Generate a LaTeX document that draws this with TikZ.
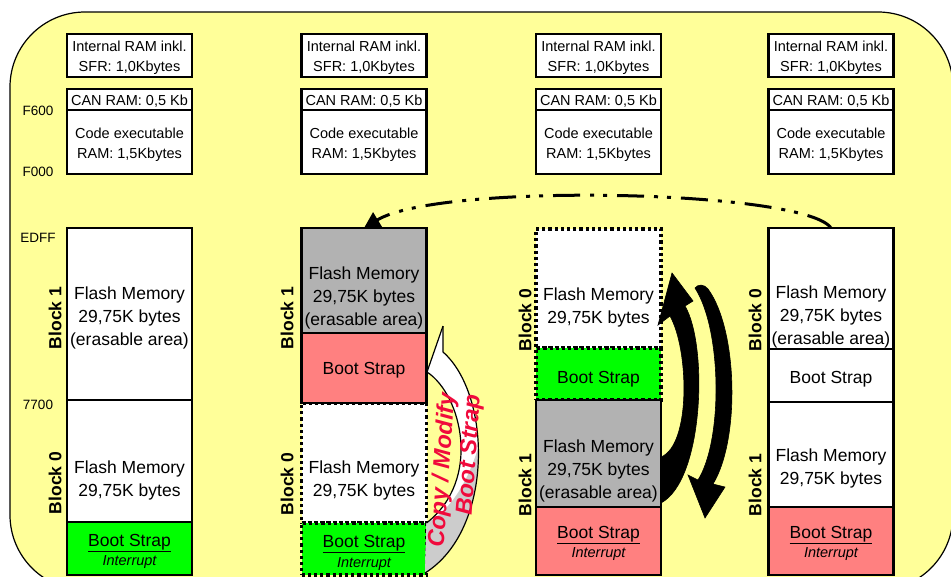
\documentclass[tikz,border=0pt]{standalone}
\usepackage{fontspec}
\setmainfont{Liberation Sans}
\usetikzlibrary{arrows.meta}
\definecolor{bgyel}{RGB}{255,255,153}
\definecolor{flgreen}{RGB}{0,255,0}
\definecolor{flpink}{RGB}{255,128,128}
\definecolor{flgray}{RGB}{178,178,178}
\definecolor{cmred}{RGB}{240,10,60}
\definecolor{arrgray}{RGB}{204,204,204}
\begin{document}
\begin{tikzpicture}[x=1pt,y=-1pt,
  mbox/.style={draw=black, line width=2.6pt, inner sep=0pt, outer sep=0pt, minimum width=125pt},
  dotbox/.style={mbox, line width=3.2pt, dash pattern=on 3.2pt off 3pt},
  txt/.style={font=\fontsize{17.5}{23}\selectfont, align=center, inner sep=0pt},
  stxt/.style={font=\fontsize{14.5}{20}\selectfont, align=center, inner sep=0pt},
  addr/.style={font=\fontsize{13.5}{15}\selectfont, inner sep=0pt},
  blk/.style={font=\fontsize{17.5}{20}\selectfont\bfseries, rotate=90, inner sep=0pt},
  intr/.style={font=\fontsize{14.5}{16}\selectfont\itshape, inner sep=0pt},
  cmtext/.style={font=\fontsize{23.5}{26}\selectfont\bfseries\itshape, text=cmred, rotate=86, inner sep=0pt},
  blackarr/.style={fill=black, draw=black, line width=0.6pt},
  ddot/.style={line width=3pt, dash pattern=on 27pt off 10pt on 4pt off 9pt on 4pt off 10pt}
]
\useasboundingbox (0,0) rectangle (951,576);
% background
\draw[fill=bgyel, line width=1.2pt, rounded corners=75pt] (10,12) rectangle (953,590);

% address labels
\node[addr] (aF600) at (38,111) {F600};
\node[addr] (aF000) at (38,172) {F000};
\node[addr] (aEDFF) at (38,238) {EDFF};
\node[addr] (a7700) at (38,405) {7700};

% top small boxes (4 columns)
\foreach \cx/\n in {129.5/1, 364/2, 598.5/3, 831/4}{
  \node[mbox, fill=white, minimum height=43pt] (iram\n) at (\cx,55.5) {};
  \node[mbox, fill=white, minimum height=64pt] (code\n) at (\cx,142) {};
  \node[mbox, fill=white, minimum height=21pt] (can\n) at (\cx,99.5) {};
  \node[stxt] (tiram\n) at (\cx,58) {Internal RAM inkl.\\SFR: 1,0Kbytes};
  \node[stxt] (tcan\n) at (\cx,101) {CAN RAM: 0,5 Kb};
  \node[stxt] (tcode\n) at (\cx,144.5) {Code executable\\RAM: 1,5Kbytes};
}

% column 1
\node[mbox, fill=white, minimum height=172pt] (c1a) at (129.5,314) {};
\node[mbox, fill=white, minimum height=122pt] (c1b) at (129.5,461) {};
\node[mbox, fill=flgreen, minimum height=53pt] (c1c) at (129.5,548.5) {};

% column 2
\node[dotbox, fill=white, minimum height=120pt] (c2c) at (364,463) {};
\node[dotbox, fill=flgreen, minimum height=52pt] (c2d) at (364,549) {};
\node[mbox, fill=flgray, minimum height=105pt] (c2a) at (364,280.5) {};
\node[mbox, fill=flpink, minimum height=70pt] (c2b) at (364,368) {};

% column 3
\node[dotbox, fill=white, minimum height=119pt] (c3a) at (598.5,288.5) {};
\node[dotbox, fill=flgreen, minimum height=52pt] (c3b) at (598.5,374) {};
\node[mbox, fill=flgray, minimum height=107pt] (c3c) at (598.5,453.5) {};
\node[mbox, fill=flpink, minimum height=68pt] (c3d) at (598.5,541) {};

% column 4
\node[mbox, fill=white, minimum height=121pt] (c4a) at (831,288.5) {};
\node[mbox, fill=white, minimum height=53pt] (c4b) at (831,375.5) {};
\node[mbox, fill=white, minimum height=105pt] (c4c) at (831,454.5) {};
\node[mbox, fill=flpink, minimum height=68pt] (c4d) at (831,541) {};

% block labels
\node[blk] (bl11) at (55,318) {Block 1};
\node[blk] (bl10) at (55,483) {Block 0};
\node[blk] (bl21) at (287,318) {Block 1};
\node[blk] (bl20) at (287,484) {Block 0};
\node[blk] (bl30) at (525,320) {Block 0};
\node[blk] (bl31) at (525,485) {Block 1};
\node[blk] (bl40) at (755,320) {Block 0};
\node[blk] (bl41) at (755,485) {Block 1};

% white/gray curved arrow (copy / modify)
\coordinate (wtip) at (443,326);
\coordinate (wlb) at (427,372);
\coordinate (wrb) at (443,352);
\coordinate (wA) at (c2c.south east);
\coordinate (wB) at (425,573);
\fill[white] (wtip) -- (wlb) .. controls (462,395) and (482,480) .. (wA) -- (wB) .. controls (494,530) and (492,395) .. (wrb) -- cycle;
\begin{scope}
  \clip (wtip) -- (wlb) .. controls (462,395) and (482,480) .. (wA) -- (wB) .. controls (494,530) and (492,395) .. (wrb) -- cycle;
  \fill[arrgray] (wA) .. controls (462,505) and (484,450) .. (492,380) -- (520,380) -- (520,600) -- (420,600) -- (420,523) -- cycle;
\end{scope}
\draw[line width=1.2pt, line join=round] (wtip) -- (wlb) .. controls (462,395) and (482,480) .. (wA);
\draw[line width=1.2pt, line join=round] (wB) .. controls (494,530) and (492,395) .. (wrb) -- (wtip);

% black swap arrows
\draw[blackarr] (c3c.east |- 0,503) .. controls (704,480) and (708,345) .. (685,306) -- (693,301) -- (672,273) -- (658,325) -- (670,316) .. controls (689,350) and (691,445) .. (c3c.east |- 0,457) -- cycle;
\draw[blackarr] (695,288) .. controls (722,330) and (723,440) .. (698,480) -- (688,475) -- (705,518) -- (725,487) -- (713,484) .. controls (740,440) and (738,330) .. (708,289) .. controls (704,284) and (698,284) .. cycle;

% dash-dot-dot arrow at top
\draw[ddot, -{Triangle[length=16pt, width=17pt]}] (c4a.north) .. controls (805,190) and (440,182) .. (c2a.north);

% texts column 1
\node[txt] (t1a) at (129.5,318) {Flash Memory\\29,75K bytes\\(erasable area)};
\node[txt] (t1b) at (129.5,480) {Flash Memory\\29,75K bytes};
\node[txt] (t1c) at (129.5,543) {\underline{Boot Strap}};
\node[intr] (t1d) at (129.5,562.5) {Interrupt};

% texts column 2
\node[txt] (t2a) at (364,297.5) {Flash Memory\\29,75K bytes\\(erasable area)};
\node[txt] (t2b) at (364,370) {Boot Strap};
\node[txt] (t2c) at (364,480) {Flash Memory\\29,75K bytes};
\node[txt] (t2d) at (364,544) {\underline{Boot Strap}};
\node[intr] (t2e) at (364,564) {Interrupt};

% texts column 3
\node[txt] (t3a) at (598.5,307) {Flash Memory\\29,75K bytes};
\node[txt] (t3b) at (598.5,379) {Boot Strap};
\node[txt] (t3c) at (598.5,471) {Flash Memory\\29,75K bytes\\(erasable area)};
\node[txt] (t3d) at (598.5,535) {\underline{Boot Strap}};
\node[intr] (t3e) at (598.5,554.5) {Interrupt};

% texts column 4
\node[txt] (t4a) at (831,317) {Flash Memory\\29,75K bytes\\(erasable area)};
\node[txt] (t4b) at (831,379) {Boot Strap};
\node[txt] (t4c) at (831,468) {Flash Memory\\29,75K bytes};
\node[txt] (t4d) at (831,535) {\underline{Boot Strap}};
\node[intr] (t4e) at (831,554.5) {Interrupt};

% copy / modify text
\node[cmtext] (cm1) at (443,470) {Copy / Modify};
\node[cmtext] (cm2) at (470,455) {Boot Strap};
\end{tikzpicture}
\end{document}
